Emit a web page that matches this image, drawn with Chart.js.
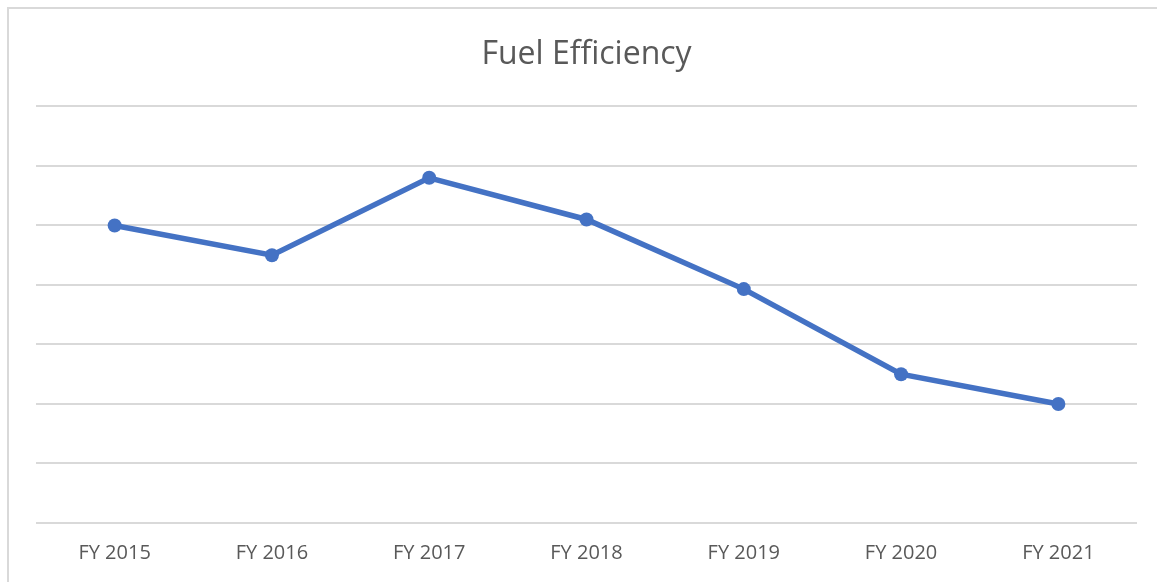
<!DOCTYPE html>
<html>
<head>
<meta charset="utf-8">
<script src="https://cdn.jsdelivr.net/npm/chart.js@4"></script>
<style>
  html, body { margin: 0; padding: 0; background: #fff; overflow: hidden; }
  #wrap { position: relative; width: 1157px; height: 582px; }
  #frame { position: absolute; left: 7px; top: 7px; width: 1200px; height: 600px;
           border-left: 2px solid #d9d9d9; border-top: 2px solid #d9d9d9; box-sizing: border-box; }
  canvas { position: absolute; left: 0; top: 0; }
</style>
</head>
<body>
<div id="wrap">
  <div id="frame"></div>
  <canvas id="c" width="1157" height="582"></canvas>
</div>
<script>
const chartTitle = "Fuel Efficiency";
const categories = ["FY 2015", "FY 2016", "FY 2017", "FY 2018", "FY 2019", "FY 2020", "FY 2021"];
const efficiency = [5.0, 4.5, 5.8, 5.1, 3.93, 2.5, 2.0];
const yMin = 0, yMax = 7, yStep = 1;

new Chart(document.getElementById('c'), {
  type: 'line',
  data: {
    labels: categories,
    datasets: [{
      label: chartTitle,
      data: efficiency,
      borderColor: '#4472C4',
      backgroundColor: '#4472C4',
      borderWidth: 5.5,
      pointRadius: 7,
      pointHoverRadius: 7,
      pointBackgroundColor: '#4472C4',
      pointBorderWidth: 0,
      tension: 0,
      clip: false
    }]
  },
  options: {
    responsive: false,
    animation: false,
    devicePixelRatio: 1,
    layout: { padding: { left: 36, right: 20, top: 0, bottom: 0 } },
    plugins: {
      legend: { display: false },
      tooltip: { enabled: false },
      title: {
        display: true,
        text: chartTitle,
        color: '#595959',
        font: { family: 'Open Sans', size: 32, weight: 'normal' },
        padding: { top: 36, bottom: 32 }
      }
    },
    scales: {
      x: {
        offset: true,
        grid: { display: false, drawTicks: false },
        border: { display: false },
        ticks: { color: '#595959', font: { family: 'Open Sans', size: 20 }, padding: 18, maxRotation: 0 },
        afterFit: s => { s.height = 59; }
      },
      y: {
        min: yMin, max: yMax,
        ticks: { display: false, stepSize: yStep },
        grid: { color: '#d9d9d9', lineWidth: 2, drawTicks: false },
        border: { display: false },
        afterFit: s => { s.width = 0; }
      }
    }
  }
});
</script>
</body>
</html>
